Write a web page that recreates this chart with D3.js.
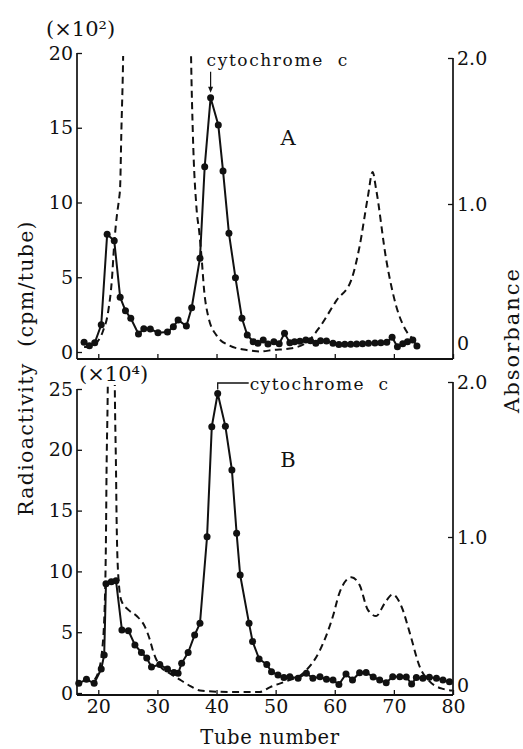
<!DOCTYPE html>
<html><head><meta charset="utf-8">
<script src="https://cdn.jsdelivr.net/npm/d3@7"></script>
<style>
html,body{margin:0;padding:0;background:#fff;}
svg text{font-family:"DejaVu Serif",serif;fill:#111;}
</style>
</head><body>
<script>
// ---------- Data ----------
// Panel A: radioactivity (x10^2 cpm/tube)
const tubesA = [17.6,18.5,19.4,20.5,21.5,22.7,23.7,24.6,25.5,26.8,27.7,28.8,30.1,31.7,32.7,33.5,34.9,35.8,37.2,38.0,39.0,40.3,41.1,42.1,43.2,44.3,45.2,46.2,47.0,47.9,48.7,49.7,50.6,51.5,52.4,53.2,54.1,55.1,55.9,56.8,57.6,58.6,59.7,60.7,61.7,62.7,63.7,64.7,65.7,66.8,67.8,68.8,69.7,70.6,71.5,72.3,73.2,73.9];
const radA   = [0.65,0.42,0.62,1.82,7.87,7.44,3.66,2.76,2.25,1.20,1.56,1.54,1.29,1.34,1.69,2.14,1.74,2.96,6.27,12.39,17.01,15.18,12.11,7.94,4.97,2.25,1.14,0.69,0.58,0.80,0.54,0.69,0.55,1.25,0.62,0.69,0.72,0.80,0.75,0.58,0.75,0.74,0.58,0.50,0.52,0.52,0.54,0.56,0.58,0.60,0.62,0.66,0.98,0.35,0.55,0.69,0.80,0.40];
// Panel A: absorbance
const absTubesA = [17.6,18.3,19.7,20.8,21.7,22.3,22.7,23.2,23.5,23.7,23.9,24.2,24.4,35.5,35.7,36.0,36.6,37.1,37.5,37.9,38.6,40.0,42.2,45.1,47.3,49.6,52.4,55.2,57.5,60.3,62.8,64.2,65.6,66.4,67.0,68.7,70.4,72.1,73.8];
const absA      = [0.02,0.02,0.05,0.13,0.27,0.48,0.73,0.94,1.03,1.12,1.49,2.00,2.60,2.60,2.00,1.48,0.98,0.80,0.62,0.41,0.23,0.10,0.03,0.00,-0.01,0.00,0.01,0.05,0.16,0.34,0.48,0.71,1.05,1.22,1.10,0.62,0.30,0.13,0.06];
// Panel B: radioactivity (x10^4 cpm/tube)
const tubesB = [16.7,18.0,19.3,20.5,21.0,21.3,22.2,23.0,24.0,25.1,26.2,27.3,28.2,29.0,30.4,31.7,32.8,33.5,34.1,35.2,36.3,37.2,38.4,39.2,40.2,41.5,42.6,43.4,44.0,45.5,46.1,47.2,48.5,49.3,50.4,51.4,52.4,53.8,55.2,56.3,57.5,58.6,59.7,60.7,61.9,63.0,64.2,65.3,66.5,67.6,68.7,69.8,71.0,72.1,73.0,73.8,74.9,76.0,77.2,78.3,79.4];
const radB   = [0.80,1.13,0.80,1.97,3.13,8.99,9.15,9.24,5.18,5.12,3.95,3.33,2.88,2.14,2.34,1.97,1.69,1.62,2.44,3.33,4.77,5.73,12.85,21.90,24.63,21.93,18.34,13.13,9.70,5.73,4.24,2.80,2.34,1.75,1.48,1.27,1.34,1.21,1.62,1.21,1.34,1.13,1.07,0.70,1.56,1.07,1.67,1.69,1.32,1.07,0.85,1.34,1.34,1.32,0.74,1.27,1.21,1.29,1.21,1.07,0.93];
// Panel B: absorbance
const absTubesB = [19.4,20.0,20.6,21.1,21.3,21.4,21.6,21.7,22.7,22.8,23.0,23.1,23.4,23.9,25.1,26.5,27.9,28.7,29.3,30.4,32.1,33.8,35.5,37.2,42.2,47.3,49.0,51.8,54.6,57.5,59.7,60.8,62.8,64.2,65.6,67.0,68.4,69.8,71.3,72.7,74.4,76.0,78.3,79.9];
const absB      = [0.08,0.13,0.25,0.57,1.00,1.43,1.95,2.40,2.40,1.95,1.43,1.11,0.74,0.59,0.53,0.49,0.42,0.34,0.26,0.17,0.12,0.08,0.04,0.01,0.00,0.00,0.03,0.07,0.12,0.27,0.49,0.64,0.74,0.69,0.53,0.49,0.57,0.63,0.55,0.38,0.16,0.07,0.02,0.01];
// Tick labels
const xTicks = [20,30,40,50,60,70,80];
const radTicksA = [0,5,10,15,20];
const radTicksB = [0,5,10,15,20,25];
const absTicks = [0,1,2];

// ---------- Layout ----------
const W = 523, H = 749;
const svg = d3.select("body").append("svg").attr("width", W).attr("height", H);
const xL = 77, xR = 453;
const x = d3.scaleLinear().domain([16.4, 80]).range([xL, xR]);

const panels = [
  {name:"A", tubes:tubesA, rad:radA, at:absTubesA, ab:absA, radTicks:radTicksA,
   yRad:d3.scaleLinear().domain([0,20]).range([352,53]),
   yAbs:d3.scaleLinear().domain([0,2]).range([350,58]),
   axisY:359, leftTop:53, rightTop:58, clipTop:56, labels:false},
  {name:"B", tubes:tubesB, rad:radB, at:absTubesB, ab:absB, radTicks:radTicksB,
   yRad:d3.scaleLinear().domain([0,25]).range([693,389]),
   yAbs:d3.scaleLinear().domain([0,2]).range([692,382]),
   axisY:695, leftTop:389, rightTop:382, clipTop:385, labels:true}
];

const fs = 19;
panels.forEach((p, i) => {
  const g = svg.append("g");
  const cid = "clip" + i;
  svg.append("clipPath").attr("id", cid).append("rect")
    .attr("x", xL).attr("y", p.clipTop).attr("width", xR - xL).attr("height", p.axisY - p.clipTop);

  // axis lines
  g.append("line").attr("x1", xL).attr("x2", xL).attr("y1", p.leftTop).attr("y2", p.axisY)
    .attr("stroke", "#111").attr("stroke-width", 1.7);
  g.append("line").attr("x1", xR).attr("x2", xR).attr("y1", p.rightTop).attr("y2", p.axisY)
    .attr("stroke", "#111").attr("stroke-width", 1.7);
  g.append("line").attr("x1", xL).attr("x2", xR).attr("y1", p.axisY).attr("y2", p.axisY)
    .attr("stroke", "#111").attr("stroke-width", 1.9);

  const la = g.append("g").attr("transform", `translate(${xL},0)`)
    .call(d3.axisLeft(p.yRad).tickValues(p.radTicks).tickSize(-5).tickPadding(4).tickFormat(d3.format("d")));
  const ra = g.append("g").attr("transform", `translate(${xR},0)`)
    .call(d3.axisRight(p.yAbs).tickValues(absTicks).tickSize(-5).tickPadding(4)
      .tickFormat(d => d === 0 ? "0" : d3.format(".1f")(d)));
  const ba = g.append("g").attr("transform", `translate(0,${p.axisY})`)
    .call(d3.axisBottom(x).tickValues(xTicks).tickSize(-5).tickPadding(5)
      .tickFormat(p.labels ? d3.format("d") : () => ""));
  [la, ra, ba].forEach(a => {
    a.select(".domain").remove();
    a.selectAll(".tick line").attr("stroke", "#111").attr("stroke-width", 1.3);
    a.selectAll(".tick text").attr("font-family", "DejaVu Serif").attr("font-size", fs).attr("fill", "#111");
  });
  ra.selectAll(".tick text").attr("dy", "0.35em");
  ra.selectAll(".tick").filter(d => d === 0).select("line").remove();
  ra.selectAll(".tick").filter(d => d === 0).select("text").attr("y", -7);

  // absorbance dashed line
  const lineAbs = d3.line().x((d, k) => x(p.at[k])).y(d => p.yAbs(d)).curve(d3.curveMonotoneX);
  g.append("path").attr("clip-path", `url(#${cid})`).datum(p.ab)
    .attr("d", lineAbs).attr("fill", "none").attr("stroke", "#111")
    .attr("stroke-width", 2).attr("stroke-dasharray", "7,4.5");

  // radioactivity line + markers
  const lineRad = d3.line().x((d, k) => x(p.tubes[k])).y(d => p.yRad(d));
  g.append("path").datum(p.rad).attr("d", lineRad).attr("fill", "none")
    .attr("stroke", "#111").attr("stroke-width", 2);
  g.selectAll("circle.pt").data(p.rad).join("circle").attr("class", "pt")
    .attr("cx", (d, k) => x(p.tubes[k])).attr("cy", d => p.yRad(d)).attr("r", 3.5)
    .attr("fill", "#111");

  g.append("text").attr("x", 288).attr("y", p.name === "A" ? 145 : 467)
    .attr("text-anchor", "middle").attr("font-size", 21).text(p.name);
});

// exponents
svg.append("text").attr("x", 46).attr("y", 36).attr("font-size", 21).text("(×10²)");
svg.append("text").attr("x", 79).attr("y", 381).attr("font-size", 21).text("(×10⁴)");

// cytochrome c annotations
{
  const p = panels[0];
  const k = d3.maxIndex(p.rad);
  const px = x(p.tubes[k]), py = p.yRad(p.rad[k]);
  svg.append("line").attr("x1", px).attr("x2", px).attr("y1", py - 26).attr("y2", py - 8)
    .attr("stroke", "#111").attr("stroke-width", 1.2);
  svg.append("path").attr("d", `M${px-2.5},${py-11} L${px+2.5},${py-11} L${px},${py-5} Z`).attr("fill", "#111");
  svg.append("text").attr("x", px - 4).attr("y", 66).attr("font-size", 17)
    .attr("letter-spacing", 1.6).style("white-space", "pre").text("cytochrome  c");
}
{
  const p = panels[1];
  const k = d3.maxIndex(p.rad);
  const px = x(p.tubes[k]), py = p.yRad(p.rad[k]);
  svg.append("path").attr("d", `M${px},${py - 4} L${px},383 L${px + 31},383`)
    .attr("fill", "none").attr("stroke", "#111").attr("stroke-width", 1.3);
  svg.append("text").attr("x", px + 32).attr("y", 390).attr("font-size", 17)
    .attr("letter-spacing", 1.4).style("white-space", "pre").text("cytochrome  c");
}

// axis titles
svg.append("text").attr("transform", "translate(33,368) rotate(-90)")
  .attr("text-anchor", "middle").attr("font-size", 20.5).attr("letter-spacing", 1.3)
  .style("white-space", "pre").text("Radioactivity  (cpm/tube)");
svg.append("text").attr("transform", "translate(519,340) rotate(-90)")
  .attr("text-anchor", "middle").attr("font-size", 21).attr("letter-spacing", 2).text("Absorbance");
svg.append("text").attr("x", 270).attr("y", 744).attr("text-anchor", "middle")
  .attr("font-size", 19.5).attr("letter-spacing", 0.6).style("white-space", "pre").text("Tube number");
</script>
</body></html>
